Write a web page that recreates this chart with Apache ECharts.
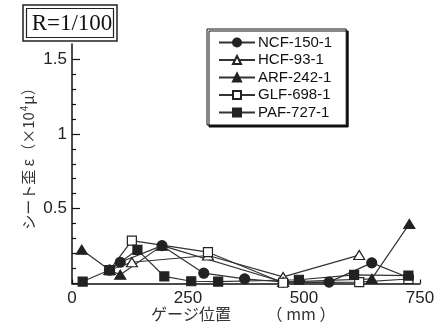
<!DOCTYPE html>
<html>
<head>
<meta charset="utf-8">
<script src="https://cdn.jsdelivr.net/npm/echarts@6/dist/echarts.min.js"></script>
<style>
  html, body { margin: 0; padding: 0; background: #fff; }
  #chart { width: 438px; height: 326px; }
</style>
</head>
<body>
<div id="chart"></div>
<script>
// Sheet strain along the gauge line, drift R = 1/100
const seriesNames = ['NCF-150-1', 'HCF-93-1', 'ARF-242-1', 'GLF-698-1', 'PAF-727-1'];

// gauge positions (mm) and strains (x10^4 μ) per specimen
const ncfX = [81, 104, 194, 284, 372, 455, 554, 646, 725];
const ncfY = [0.09, 0.142, 0.253, 0.069, 0.031, 0.01, 0.009, 0.138, 0.04];

const hcfX = [81, 129, 293, 455, 619];
const hcfY = [0.09, 0.142, 0.187, 0.044, 0.19];

const arfX = [21, 81, 104, 194, 455, 646, 727];
const arfY = [0.225, 0.09, 0.058, 0.253, 0.01, 0.031, 0.398];

const glfX = [81, 129, 293, 455, 619, 725];
const glfY = [0.09, 0.287, 0.209, 0.005, 0.009, 0.03];

const pafX = [23, 81, 141, 199, 257, 315, 489, 608, 725];
const pafY = [0.013, 0.09, 0.225, 0.047, 0.015, 0.013, 0.025, 0.058, 0.053];

const xTicks = [0, 250, 500, 750];
const yMajor = [0, 0.5, 1, 1.5];
const yMinor = [0.1, 0.2, 0.3, 0.4, 0.6, 0.7, 0.8, 0.9, 1.1, 1.2, 1.3, 1.4];

const pair = (xs, ys) => xs.map((x, i) => [x, ys[i]]);

const INK = '#222';
const LINE = '#333';

function makeSeries(name, xs, ys, symbol, size, filled) {
  return {
    name: name,
    type: 'line',
    data: pair(xs, ys),
    symbol: symbol,
    symbolSize: size,
    showAllSymbol: true,
    lineStyle: { color: LINE, width: 1.2 },
    itemStyle: { color: filled ? INK : '#fff', borderColor: INK, borderWidth: 1.2 },
    emphasis: { disabled: true },
    animation: false
  };
}

const chart = echarts.init(document.getElementById('chart'), null, { renderer: 'canvas' });

chart.setOption({
  backgroundColor: '#fff',
  animation: false,
  grid: { left: 72, right: 18, top: 44, bottom: 42.5, containLabel: false },
  legend: {
    data: seriesNames,
    orient: 'vertical',
    left: 207,
    top: 29,
    padding: [6, 14, 5, 11],
    itemWidth: 36,
    itemHeight: 10,
    itemGap: 2.5,
    backgroundColor: '#fff',
    borderColor: '#111',
    borderWidth: 1,
    shadowColor: '#111',
    shadowBlur: 0,
    shadowOffsetX: 2,
    shadowOffsetY: 2,
    textStyle: { fontFamily: 'Liberation Sans', fontSize: 15, lineHeight: 11, color: '#111', padding: [0, 0, 0, -2] },
    selectedMode: false
  },
  xAxis: {
    type: 'value',
    min: 0,
    max: 750,
    interval: 250,
    axisLine: { lineStyle: { color: '#111', width: 1.5 } },
    axisTick: { inside: true, length: 4, lineStyle: { color: '#111', width: 1.2 }, customValues: xTicks },
    axisLabel: { fontFamily: 'Liberation Sans', fontSize: 17, color: INK, margin: 6, customValues: xTicks },
    splitLine: { show: false }
  },
  yAxis: [
    {
      type: 'value',
      min: 0,
      max: 1.6,
      axisLine: { show: true, lineStyle: { color: '#111', width: 1.5 } },
      axisTick: { show: true, inside: true, length: 8, lineStyle: { color: '#111', width: 1.2 }, customValues: yMajor },
      axisLabel: {
        fontFamily: 'Liberation Sans', fontSize: 17, color: INK, margin: 5,
        customValues: yMajor.filter(v => v > 0)
      },
      splitLine: { show: false }
    },
    {
      type: 'value',
      min: 0,
      max: 1.6,
      position: 'left',
      axisLine: { show: false },
      axisTick: { show: true, inside: true, length: 4, lineStyle: { color: '#111', width: 1.2 }, customValues: yMinor },
      axisLabel: { show: false },
      splitLine: { show: false }
    }
  ],
  series: [
    makeSeries(seriesNames[0], ncfX, ncfY, 'circle', 10, true),
    makeSeries(seriesNames[1], hcfX, hcfY, 'triangle', [11, 9], false),
    makeSeries(seriesNames[2], arfX, arfY, 'triangle', [11, 9], true),
    makeSeries(seriesNames[3], glfX, glfY, 'rect', 9, false),
    makeSeries(seriesNames[4], pafX, pafY, 'rect', 9, true)
  ],
  graphic: [
    // drift angle badge with a double frame
    { type: 'rect', shape: { x: 23, y: 5, width: 94, height: 36 }, style: { fill: '#fff', stroke: '#222', lineWidth: 1.5 }, z: 10 },
    { type: 'rect', shape: { x: 26.5, y: 8.5, width: 87, height: 29 }, style: { fill: 'none', stroke: '#222', lineWidth: 1.2 }, z: 10 },
    { type: 'text', x: 72, y: 24, z: 11,
      style: { text: 'R=1/100', fill: '#111', font: '23px "Liberation Serif"', align: 'center', verticalAlign: 'middle' } },
    // axis titles
    { type: 'text', x: 28, y: 155, rotation: Math.PI / 2, z: 11,
      style: {
        text: '{a|シート歪 ε（×10}{s|4}{a|μ）}',
        align: 'center', verticalAlign: 'middle',
        rich: {
          a: { fontFamily: 'Noto Sans CJK JP', fontSize: 15, fill: '#333' },
          s: { fontFamily: 'Noto Sans CJK JP', fontSize: 10, fill: '#333', verticalAlign: 'top', padding: [0, 1, 8, 1] }
        }
      } },
    { type: 'text', x: 191, y: 314, z: 11,
      style: { text: 'ゲージ位置', fill: '#333', font: '16px "Noto Sans CJK JP"', align: 'center', verticalAlign: 'middle' } },
    { type: 'text', x: 301, y: 314, z: 11,
      style: { text: '（ mm ）', fill: '#333', font: '16px "Noto Sans CJK JP"', align: 'center', verticalAlign: 'middle' } }
  ]
});
</script>
</body>
</html>
